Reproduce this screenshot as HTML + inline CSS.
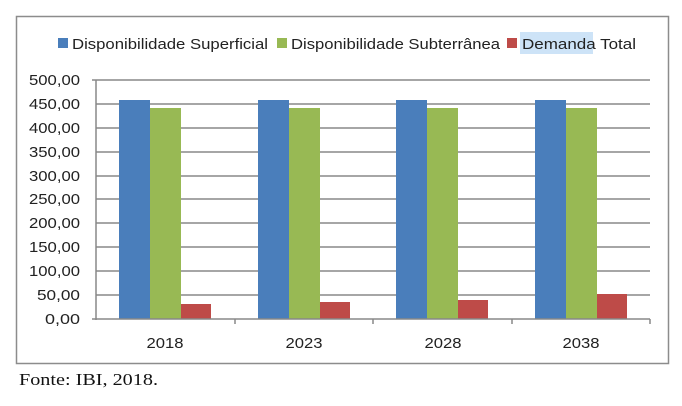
<!DOCTYPE html><html><head><style>body{margin:0;background:#fff;width:682px;height:401px;overflow:hidden}</style></head><body>
<svg width="682" height="401" xmlns="http://www.w3.org/2000/svg" font-family="Liberation Sans, sans-serif">
<rect x="16.5" y="16.5" width="652" height="347" fill="#fff" stroke="#8c8c8c" stroke-width="1.5"/>
<g font-size="15" fill="#222">
<rect x="58" y="38" width="10" height="10" fill="#4a7ebb"/><text x="72" y="49" textLength="196" lengthAdjust="spacingAndGlyphs">Disponibilidade Superficial</text>
<rect x="277" y="38" width="10" height="10" fill="#98b954"/><text x="291" y="49" textLength="209" lengthAdjust="spacingAndGlyphs">Disponibilidade Subterrânea</text>
<rect x="507" y="38" width="10" height="10" fill="#be4b48"/><rect x="520" y="32" width="73" height="22" fill="#cde3f7"/><text x="522" y="49" textLength="114" lengthAdjust="spacingAndGlyphs">Demanda Total</text>
</g>
<g stroke="#888" stroke-width="1.5">
<line x1="96" y1="80" x2="650" y2="80"/><line x1="96" y1="104" x2="650" y2="104"/><line x1="96" y1="128" x2="650" y2="128"/><line x1="96" y1="152" x2="650" y2="152"/><line x1="96" y1="176" x2="650" y2="176"/><line x1="96" y1="199" x2="650" y2="199"/><line x1="96" y1="223" x2="650" y2="223"/><line x1="96" y1="247" x2="650" y2="247"/><line x1="96" y1="271" x2="650" y2="271"/><line x1="96" y1="295" x2="650" y2="295"/>
</g>
<g font-size="15" fill="#222" text-anchor="end">
<text x="80" y="85" textLength="51" lengthAdjust="spacingAndGlyphs">500,00</text><text x="80" y="109" textLength="51" lengthAdjust="spacingAndGlyphs">450,00</text><text x="80" y="133" textLength="51" lengthAdjust="spacingAndGlyphs">400,00</text><text x="80" y="157" textLength="51" lengthAdjust="spacingAndGlyphs">350,00</text><text x="80" y="181" textLength="51" lengthAdjust="spacingAndGlyphs">300,00</text><text x="80" y="204" textLength="51" lengthAdjust="spacingAndGlyphs">250,00</text><text x="80" y="228" textLength="51" lengthAdjust="spacingAndGlyphs">200,00</text><text x="80" y="252" textLength="51" lengthAdjust="spacingAndGlyphs">150,00</text><text x="80" y="276" textLength="51" lengthAdjust="spacingAndGlyphs">100,00</text><text x="80" y="300" textLength="43" lengthAdjust="spacingAndGlyphs">50,00</text><text x="80" y="324" textLength="35" lengthAdjust="spacingAndGlyphs">0,00</text>
</g>
<g>
<rect x="119" y="100" width="31" height="219" fill="#4a7ebb"/><rect x="150" y="108" width="31" height="211" fill="#98b954"/><rect x="181" y="304" width="30" height="15" fill="#be4b48"/>
<rect x="258" y="100" width="31" height="219" fill="#4a7ebb"/><rect x="289" y="108" width="31" height="211" fill="#98b954"/><rect x="320" y="302" width="30" height="17" fill="#be4b48"/>
<rect x="396" y="100" width="31" height="219" fill="#4a7ebb"/><rect x="427" y="108" width="31" height="211" fill="#98b954"/><rect x="458" y="300" width="30" height="19" fill="#be4b48"/>
<rect x="535" y="100" width="31" height="219" fill="#4a7ebb"/><rect x="566" y="108" width="31" height="211" fill="#98b954"/><rect x="597" y="294" width="30" height="25" fill="#be4b48"/>
</g>
<g stroke="#888" stroke-width="1.5">
<line x1="96" y1="80" x2="96" y2="320"/><line x1="92" y1="319" x2="650" y2="319"/>
<line x1="235" y1="319" x2="235" y2="324"/><line x1="373" y1="319" x2="373" y2="324"/><line x1="512" y1="319" x2="512" y2="324"/><line x1="650" y1="319" x2="650" y2="324"/>
<line x1="92" y1="80" x2="96" y2="80"/>
</g>
<g font-size="15" fill="#222" text-anchor="middle">
<text x="165" y="348" textLength="37" lengthAdjust="spacingAndGlyphs">2018</text><text x="304" y="348" textLength="37" lengthAdjust="spacingAndGlyphs">2023</text><text x="443" y="348" textLength="37" lengthAdjust="spacingAndGlyphs">2028</text><text x="581" y="348" textLength="37" lengthAdjust="spacingAndGlyphs">2038</text>
</g>
<text x="19" y="385" font-family="Liberation Serif, serif" font-size="17" fill="#111" textLength="139" lengthAdjust="spacingAndGlyphs">Fonte: IBI, 2018.</text>
</svg></body></html>
